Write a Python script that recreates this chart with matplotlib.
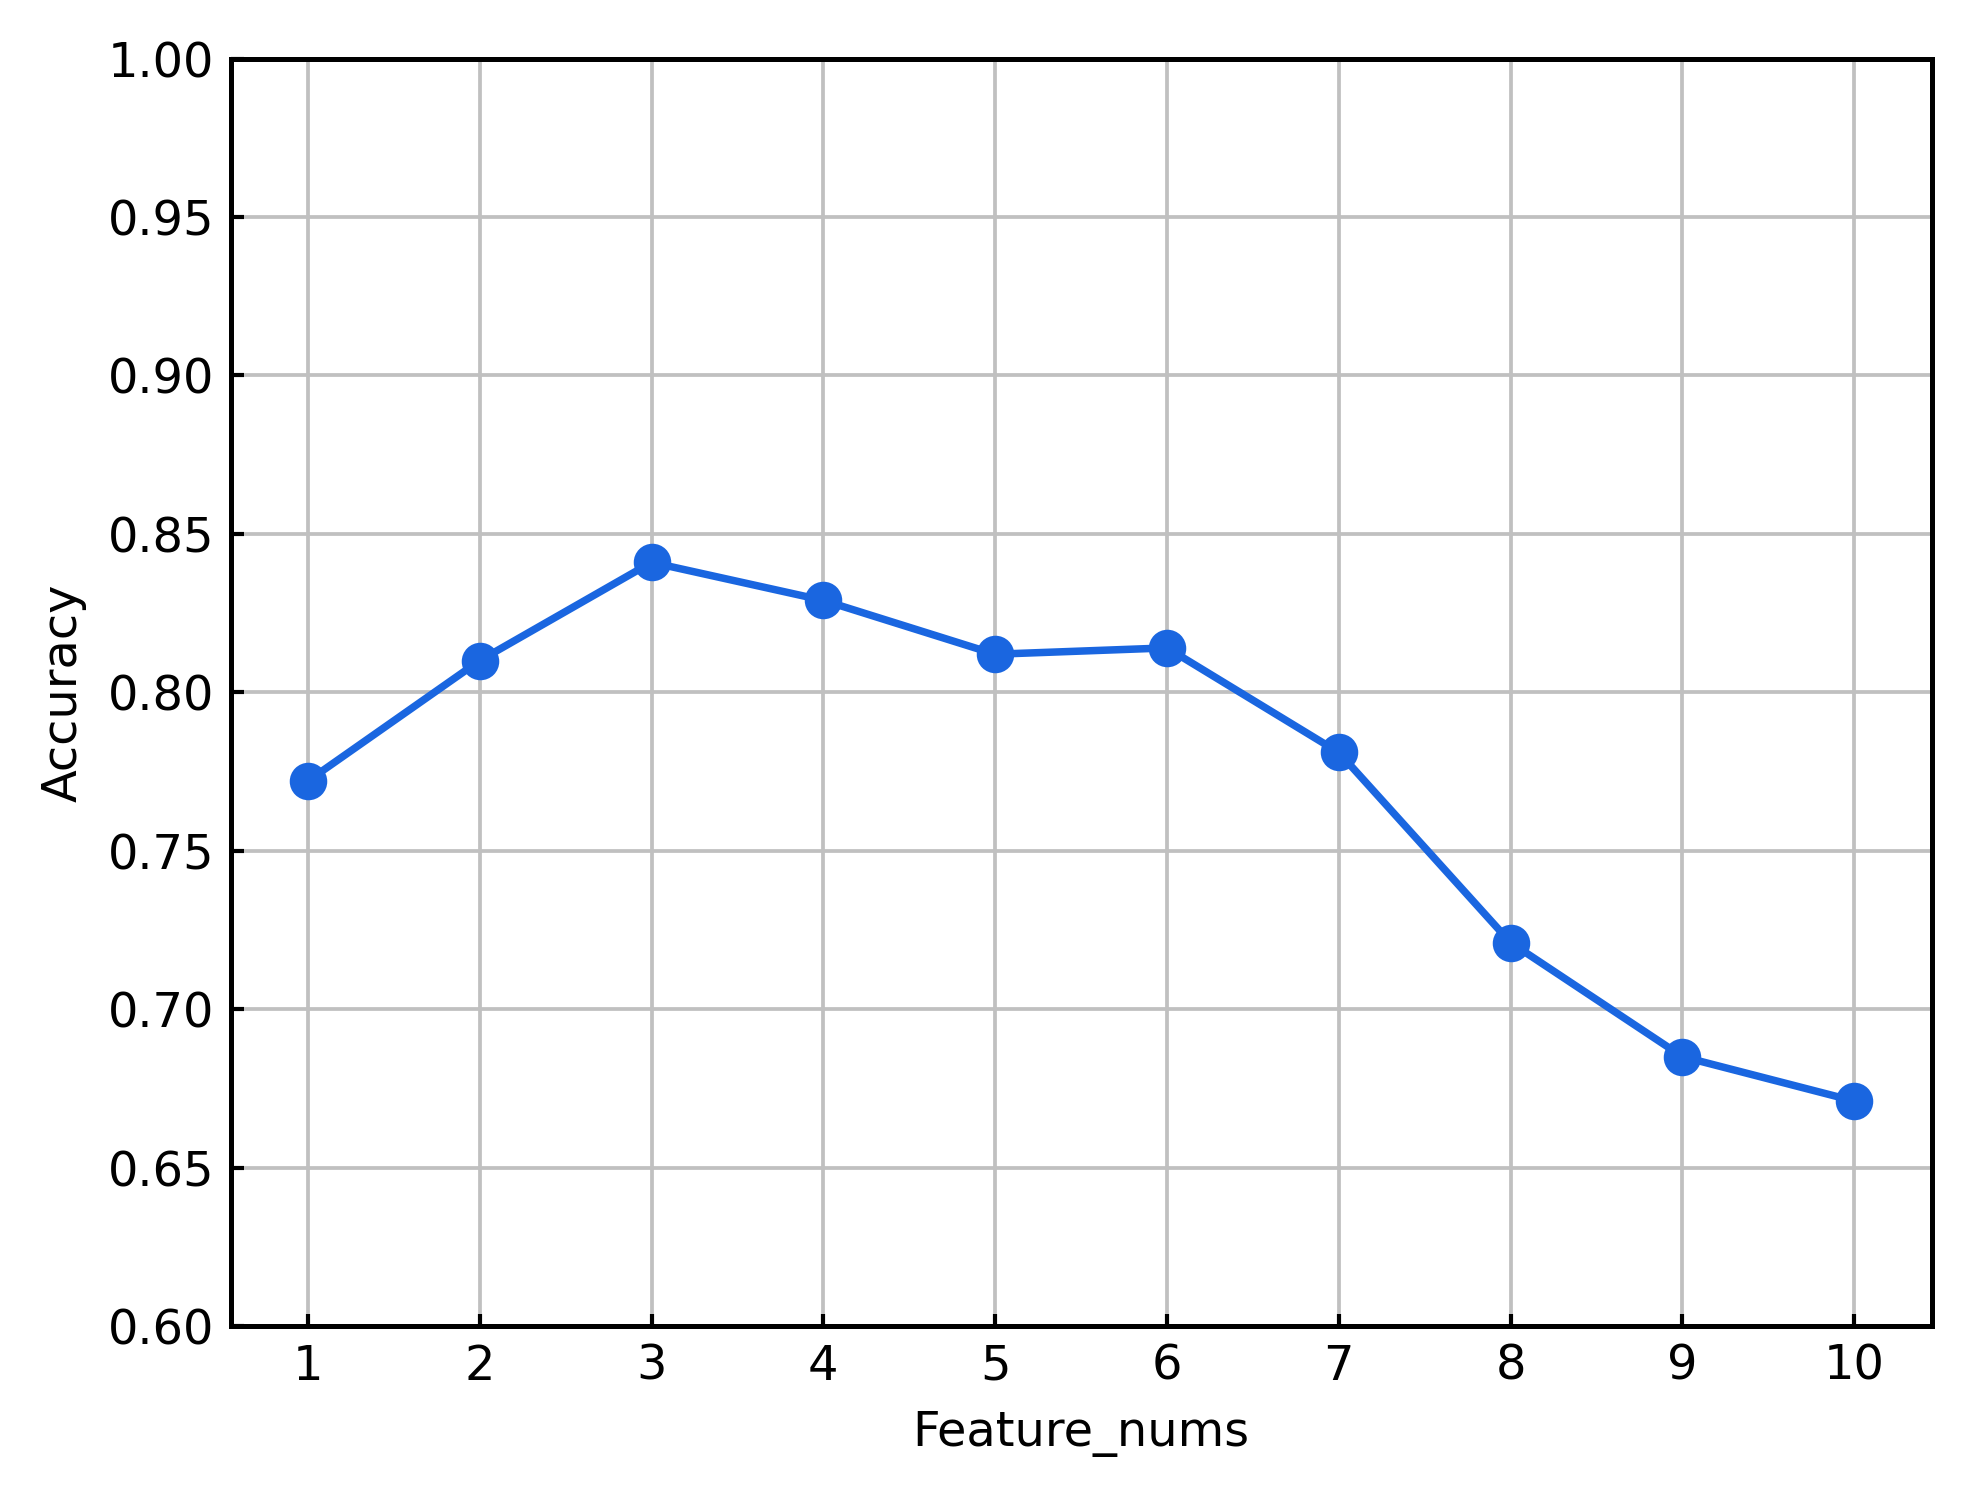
import matplotlib
matplotlib.use("Agg")
import matplotlib.pyplot as plt

feature_nums = [1, 2, 3, 4, 5, 6, 7, 8, 9, 10]
accuracy = [0.772, 0.810, 0.841, 0.829, 0.812, 0.814, 0.781, 0.721, 0.685, 0.671]
y_ticks = [0.60, 0.65, 0.70, 0.75, 0.80, 0.85, 0.90, 0.95, 1.00]

fig = plt.figure(figsize=(1971 / 300, 1501 / 300), dpi=300)
ax = fig.add_axes([0.117, 0.1166, 0.863, 0.8444])

ax.plot(feature_nums, accuracy, color="#1a66e0", linewidth=1.8,
        marker="o", markersize=8, zorder=3)

ax.set_xlim(0.55, 10.45)
ax.set_ylim(0.60, 1.00)
ax.set_xticks(feature_nums)
ax.set_yticks(y_ticks)
ax.set_yticklabels([f"{v:.2f}" for v in y_ticks])
ax.grid(True, color="#c0c0c0", linewidth=0.9)
ax.set_axisbelow(True)
ax.tick_params(direction="in", length=3, width=1, labelsize=11.5, pad=4)
for s in ax.spines.values():
    s.set_linewidth(1.2)

ax.set_xlabel("Feature_nums", fontsize=11.5, labelpad=5)
ax.set_ylabel("Accuracy", fontsize=11.5, labelpad=5)

fig.savefig("out.png", dpi=300)
